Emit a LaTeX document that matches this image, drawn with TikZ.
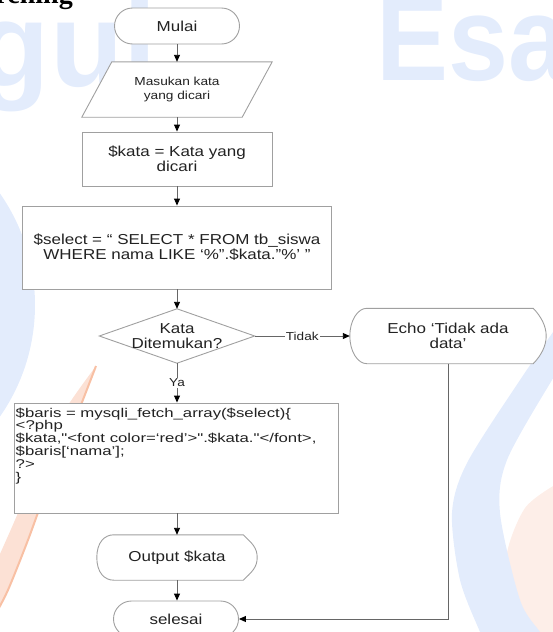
\documentclass[tikz,border=0pt]{standalone}
\usepackage{fontspec}
\setmainfont{Liberation Sans}[FakeStretch=1.18]
\newfontfamily\codefont{Liberation Sans}[FakeStretch=1.32]
\newfontfamily\markfont{Liberation Sans}
\newfontfamily\headfont{Liberation Serif}
\usetikzlibrary{arrows.meta}

\definecolor{wmblue}{HTML}{E3ECFC}
\definecolor{wmpeach}{HTML}{FDEEE8}
\definecolor{wmorange}{HTML}{FCE1D5}
\definecolor{wmorangedeep}{HTML}{F8C0A4}
\definecolor{edge}{HTML}{A0A0A0}
\definecolor{wirecol}{HTML}{666666}
\definecolor{ink}{HTML}{222222}

\pgfdeclarelayer{logo}
\pgfdeclarelayer{shapes}
\pgfsetlayers{logo,shapes,main}

% outline of a "display" symbol: round bulge on the left, blunt point on the right
\newcommand\dispoutline[3]{%
  \draw[shapeline, fill=white] ([xshift=#2]#1.north west) -- ([xshift=-#3]#1.north east)
    .. controls ([xshift=-0.4*#3,yshift=-8pt]#1.north east) and ([yshift=10pt]#1.east) .. (#1.east)
    .. controls ([yshift=-10pt]#1.east) and ([xshift=-0.4*#3,yshift=8pt]#1.south east) .. ([xshift=-#3]#1.south east)
    -- ([xshift=#2]#1.south west)
    .. controls ([xshift=0.45*#2]#1.south west) and ([yshift=-15pt]#1.west) .. (#1.west)
    .. controls ([yshift=15pt]#1.west) and ([xshift=0.45*#2]#1.north west) .. cycle;}

\tikzset{
  shapeline/.style={draw=edge, line width=0.9pt},
  boxnode/.style={inner sep=0pt, text=ink, align=center, font=\fontsize{14.4}{15}\selectfont},
  proc/.style={boxnode, shapeline, fill=white, rectangle},
  term/.style={boxnode, shapeline, fill=white, rounded corners=18pt, minimum width=125pt, minimum height=36pt},
  ghost/.style={boxnode},
  wire/.style={draw=wirecol, line width=0.9pt, -{Triangle[length=7pt,width=6pt,color=black]}},
  tag/.style={fill=white, inner sep=1pt, text=ink, font=\fontsize{11.5}{12}\selectfont},
  logotext/.style={inner sep=0pt, text=wmblue, font=\markfont\bfseries\fontsize{120}{120}\selectfont},
}

\begin{document}
\begin{tikzpicture}[x=1pt,y=-1pt]
\useasboundingbox (0,0) rectangle (552,632);
\clip (0,0) rectangle (552,632);

% ---- faint logo in the background ----
\begin{pgfonlayer}{logo}
\node[logotext, anchor=base east] (wmleft) at (157,86) {gul};
\node[logotext, anchor=base west] (wmright) at (376,80) {\scalebox{0.9}[1]{Esa}};
\fill[wmblue] (-160,305) circle[radius=195];
\fill[wmpeach] plot[smooth] coordinates {(560,482) (525,508) (506,560) (520,610) (536,640)} -- (560,640) -- cycle;
\fill[wmblue] plot[smooth] coordinates {(565,315) (520,380) (467,463) (452,513) (460,580) (480,632) (484,640)}
  -- plot[smooth] coordinates {(545,640) (540,632) (520,600) (500,513) (507,460) (552,380) (565,362)} -- cycle;
\fill[wmorange] plot[smooth] coordinates {(96,366) (75,420) (50,480) (28,540) (8,590) (-5,615)}
  -- plot[smooth] coordinates {(-5,565) (15,520) (40,460) (65,410) (96,366)} -- cycle;
\draw[wmorangedeep, line width=2pt] plot[smooth] coordinates {(96,366) (75,420) (50,480) (28,540) (8,590) (-5,615)};
\end{pgfonlayer}

% ---- heading cut off at the top ----
\node[anchor=base east, inner sep=0pt, font=\headfont\bfseries\fontsize{28}{28}\selectfont] (head) at (73,3) {Searching};

% ---- flowchart ----
\node[term] (start) at (177,26) {Mulai};
\node[ghost, minimum width=190pt, minimum height=55pt, font=\fontsize{11.6}{14}\selectfont] (in) at (177,89.5) {Masukan kata\\yang dicari};
\node[proc, minimum width=190pt, minimum height=54pt] (kata) at (177,159) {\$kata = Kata yang\\dicari};
\node[proc, minimum width=309pt, minimum height=83pt] (sel) at (177,247.5) {\$select = “ SELECT * FROM tb\_siswa\\WHERE nama LIKE ‘\%".\$kata."\%’ ”};
\node[ghost, minimum width=155pt, minimum height=54pt] (dec) at (177,336) {Kata\\Ditemukan?};
\node[ghost, minimum width=196pt, minimum height=55pt] (echo) at (448,336) {Echo ‘Tidak ada\\data’};
\node[proc, minimum width=324pt, minimum height=110pt] (baris) at (176,458) {};
\node[ghost, anchor=north west, align=left, font={\codefont\fontsize{12.7}{12.8}\selectfont\lineskiplimit=-20pt}] (code) at ([xshift=2pt,yshift=-5pt]baris.north west)
  {\$baris = mysqli\_fetch\_array(\$select)\{\\
   <?php\\
   \$kata,"<font color=‘red’>".\$kata."</font>,\\
   \$baris[‘nama’];\\
   ?>\\
   \}};
\node[ghost, minimum width=160pt, minimum height=45pt] (out) at (177,557.5) {Output \$kata};
\node[term] (stop) at (176,619) {selesai};

% outlines of the shapes that are not plain rectangles, kept under their texts
\begin{pgfonlayer}{shapes}
\draw[shapeline, fill=white] (in.south west) -- ([xshift=30pt]in.north west) -- (in.north east) -- ([xshift=-30pt]in.south east) -- cycle;
\draw[shapeline, fill=white] (dec.north) -- (dec.east) -- (dec.south) -- (dec.west) -- cycle;
\dispoutline{echo}{17pt}{13pt}
\dispoutline{out}{17pt}{14pt}
\end{pgfonlayer}

% ---- connectors ----
\draw[wire] (start.south) -- (start.south |- in.north);
\draw[wire] (in.south) -- (in.south |- kata.north);
\draw[wire] (kata.south) -- (kata.south |- sel.north);
\draw[wire] (sel.south) -- (sel.south |- dec.north);
\draw[wire] (dec.east) -- node[tag] {Tidak} (echo.west);
\draw[wire] (dec.south) -- node[tag] {Ya} (dec.south |- baris.north);
\draw[wire] (dec.south |- baris.south) -- (dec.south |- out.north);
\draw[wire] (dec.south |- out.south) -- (dec.south |- stop.north);
\draw[wire] (echo.south) |- (stop.east);
\end{tikzpicture}
\end{document}
